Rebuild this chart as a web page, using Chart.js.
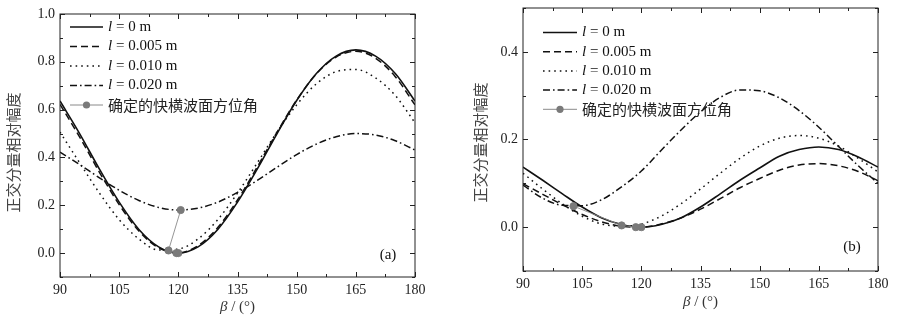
<!DOCTYPE html>
<html>
<head>
<meta charset="utf-8">
<script src="https://cdn.jsdelivr.net/npm/chart.js@4.4.1/dist/chart.umd.min.js"></script>
<style>
  body { margin: 0; background: #fff; }
  .panel { position: absolute; top: 0; width: 450px; height: 318px; }
</style>
</head>
<body>
<div class="panel" style="left:0"><canvas id="chartA" width="450" height="318"></canvas></div>
<div class="panel" style="left:450px"><canvas id="chartB" width="450" height="318"></canvas></div>
<script>
// azimuth beta (deg), shared x values
const beta = [90, 95, 100, 105, 110, 115, 120, 125, 130, 135, 140, 145, 150, 155, 160, 165, 170, 175, 180];
const xTicks = [90, 105, 120, 135, 150, 165, 180];

// panel (a)
const aTicks = [0.0, 0.2, 0.4, 0.6, 0.8, 1.0];
const a0   = [0.636, 0.499, 0.351, 0.213, 0.099, 0.026, 0.000, 0.026, 0.099, 0.213, 0.351, 0.499, 0.638, 0.751, 0.824, 0.850, 0.824, 0.751, 0.636];
const a005 = [0.622, 0.485, 0.338, 0.203, 0.092, 0.022, 0.001, 0.031, 0.107, 0.222, 0.360, 0.505, 0.640, 0.750, 0.820, 0.844, 0.815, 0.738, 0.620];
const a010 = [0.506, 0.377, 0.251, 0.140, 0.059, 0.013, 0.017, 0.059, 0.140, 0.251, 0.377, 0.506, 0.620, 0.708, 0.759, 0.768, 0.733, 0.659, 0.545];
const a020 = [0.422, 0.370, 0.315, 0.263, 0.220, 0.191, 0.180, 0.188, 0.213, 0.254, 0.304, 0.359, 0.412, 0.456, 0.487, 0.500, 0.494, 0.470, 0.431];
const aMarkX = [120, 119.5, 117.5, 120.6];
const aMarkY = [0.000, 0.000, 0.011, 0.180];

// panel (b)
const bTicks = [0.0, 0.2, 0.4];
const b0   = [0.137, 0.107, 0.076, 0.046, 0.021, 0.006, 0.000, 0.006, 0.021, 0.046, 0.076, 0.107, 0.135, 0.162, 0.177, 0.183, 0.177, 0.160, 0.137];
const b005 = [0.099, 0.075, 0.051, 0.029, 0.012, 0.002, 0.000, 0.007, 0.021, 0.041, 0.065, 0.090, 0.111, 0.130, 0.142, 0.145, 0.140, 0.127, 0.106];
const b010 = [0.123, 0.087, 0.053, 0.025, 0.007, 0.002, 0.007, 0.025, 0.053, 0.087, 0.123, 0.157, 0.185, 0.203, 0.209, 0.203, 0.185, 0.157, 0.126];
const b020 = [0.096, 0.066, 0.050, 0.049, 0.063, 0.092, 0.128, 0.175, 0.221, 0.263, 0.296, 0.313, 0.311, 0.295, 0.266, 0.228, 0.184, 0.140, 0.100];
const bMarkX = [120, 118.6, 115, 102.8];
const bMarkY = [0.000, 0.000, 0.004, 0.048];

const seriesNames = ['0', '0.005', '0.010', '0.020'];
const markName = '确定的快横波面方位角';
const yTitle = '正交分量相对幅度';

const SERIF = '"Liberation Serif", "Times New Roman", serif';
const CJK = '"Noto Sans CJK SC", sans-serif';
const lineStyles = [
  { dash: [], width: 1.6 },
  { dash: [7, 4], width: 1.5 },
  { dash: [1.6, 4], width: 1.5 },
  { dash: [7, 3, 1.6, 3], width: 1.5 }
];

function pts(xs, ys) {
  return xs.map((x, i) => ({ x: x, y: ys[i] }));
}

function makeDatasets(curves, markX, markY) {
  const sets = [{
    data: pts(markX, markY),
    showLine: true,
    borderColor: '#8a8a8a',
    borderWidth: 0.9,
    pointRadius: 3.6,
    pointBackgroundColor: '#7a7a7a',
    pointBorderColor: '#7a7a7a',
    tension: 0
  }];
  curves.forEach((c, i) => {
    sets.push({
      data: pts(beta, c),
      borderColor: '#111',
      borderWidth: lineStyles[i].width,
      borderDash: lineStyles[i].dash,
      pointRadius: 0,
      cubicInterpolationMode: 'monotone',
      fill: false
    });
  });
  return sets;
}

// frame, inward ticks, legend, titles
const decoPlugin = {
  id: 'deco',
  afterDraw(chart, args, opts) {
    const ctx = chart.ctx;
    const area = chart.chartArea;
    const xs = chart.scales.x;
    const ys = chart.scales.y;
    ctx.save();
    ctx.strokeStyle = '#222';
    ctx.lineWidth = 1;
    ctx.setLineDash([]);
    ctx.strokeRect(area.left, area.top, area.right - area.left, area.bottom - area.top);

    function minors(major, lo, hi) {
      const step = major[1] - major[0];
      const out = [];
      for (let i = 0; i < major.length - 1; i++) out.push((major[i] + major[i + 1]) / 2);
      if (major[0] - step / 2 >= lo - 1e-9) out.push(major[0] - step / 2);
      if (major[major.length - 1] + step / 2 <= hi + 1e-9) out.push(major[major.length - 1] + step / 2);
      return out;
    }
    ctx.beginPath();
    xTicks.forEach(v => {
      const p = Math.round(xs.getPixelForValue(v)) + 0.5;
      ctx.moveTo(p, area.bottom); ctx.lineTo(p, area.bottom - 5);
      ctx.moveTo(p, area.top); ctx.lineTo(p, area.top + 5);
    });
    minors(xTicks, xs.min, xs.max).forEach(v => {
      const p = Math.round(xs.getPixelForValue(v)) + 0.5;
      ctx.moveTo(p, area.bottom); ctx.lineTo(p, area.bottom - 3);
      ctx.moveTo(p, area.top); ctx.lineTo(p, area.top + 3);
    });
    opts.yTicks.forEach(v => {
      const p = Math.round(ys.getPixelForValue(v)) + 0.5;
      ctx.moveTo(area.left, p); ctx.lineTo(area.left + 5, p);
      ctx.moveTo(area.right, p); ctx.lineTo(area.right - 5, p);
    });
    minors(opts.yTicks, ys.min, ys.max).forEach(v => {
      const p = Math.round(ys.getPixelForValue(v)) + 0.5;
      ctx.moveTo(area.left, p); ctx.lineTo(area.left + 3, p);
      ctx.moveTo(area.right, p); ctx.lineTo(area.right - 3, p);
    });
    ctx.stroke();

    // legend
    const lg = opts.legend;
    ctx.textBaseline = 'middle';
    ctx.fillStyle = '#111';
    seriesNames.forEach((name, i) => {
      const y = lg.y + i * lg.gap;
      ctx.beginPath();
      ctx.setLineDash(lineStyles[i].dash);
      ctx.lineWidth = lineStyles[i].width;
      ctx.strokeStyle = '#111';
      ctx.moveTo(lg.x0, y); ctx.lineTo(lg.x1, y);
      ctx.stroke();
      ctx.setLineDash([]);
      let tx = lg.tx;
      ctx.font = 'italic 15px ' + SERIF;
      ctx.fillText('l', tx, y);
      tx += ctx.measureText('l').width;
      ctx.font = '15px ' + SERIF;
      ctx.fillText(' = ' + name + ' m', tx, y);
    });
    const my = lg.y + 4 * lg.gap;
    ctx.beginPath();
    ctx.strokeStyle = '#8a8a8a';
    ctx.lineWidth = 1;
    ctx.moveTo(lg.x0, my); ctx.lineTo(lg.x1, my);
    ctx.stroke();
    ctx.beginPath();
    ctx.fillStyle = '#7a7a7a';
    ctx.arc((lg.x0 + lg.x1) / 2, my, 3.6, 0, Math.PI * 2);
    ctx.fill();
    ctx.fillStyle = '#222';
    ctx.font = '15px ' + CJK;
    ctx.fillText(markName, lg.tx, my);

    // panel tag
    ctx.font = '15px ' + SERIF;
    ctx.fillStyle = '#111';
    ctx.textAlign = 'center';
    ctx.fillText(opts.tag, opts.tagX, opts.tagY);

    // x title
    ctx.textAlign = 'left';
    const cx = (area.left + area.right) / 2;
    ctx.font = 'italic 15px ' + SERIF;
    const wB = ctx.measureText('β').width;
    ctx.font = '15px ' + SERIF;
    const rest = ' / (°)';
    const wR = ctx.measureText(rest).width;
    let sx = cx - (wB + wR) / 2;
    ctx.fillStyle = '#333';
    ctx.font = 'italic 15px ' + SERIF;
    ctx.fillText('β', sx, opts.xTitleY);
    ctx.font = '15px ' + SERIF;
    ctx.fillText(rest, sx + wB, opts.xTitleY);

    // y title
    ctx.save();
    ctx.translate(opts.yTitleX, (area.top + area.bottom) / 2 + opts.yTitleShift);
    ctx.rotate(-Math.PI / 2);
    ctx.textAlign = 'center';
    ctx.fillStyle = '#444';
    ctx.font = '15px ' + CJK;
    ctx.fillText(yTitle, 0, 0);
    ctx.restore();
    ctx.restore();
  }
};

function makeChart(id, curves, markX, markY, cfg) {
  return new Chart(document.getElementById(id), {
    type: 'line',
    data: { datasets: makeDatasets(curves, markX, markY) },
    options: {
      responsive: false,
      animation: false,
      events: [],
      layout: { padding: cfg.padding },
      plugins: {
        legend: { display: false },
        tooltip: { enabled: false },
        deco: cfg.deco
      },
      scales: {
        x: {
          type: 'linear',
          min: 90, max: 180,
          grid: { display: false, drawTicks: false },
          border: { display: false },
          afterBuildTicks: s => { s.ticks = xTicks.map(v => ({ value: v })); },
          afterFit: s => { s.height = cfg.xHeight; s.paddingLeft = 0; s.paddingRight = 0; },
          ticks: { padding: 5, color: '#222', font: { family: SERIF, size: 14 }, maxRotation: 0 }
        },
        y: {
          min: cfg.yMin, max: cfg.yMax,
          grid: { display: false, drawTicks: false },
          border: { display: false },
          afterBuildTicks: s => { s.ticks = cfg.deco.yTicks.map(v => ({ value: v })); },
          afterFit: s => { s.width = cfg.yWidth; s.paddingTop = 0; s.paddingBottom = 0; },
          ticks: {
            padding: 5, color: '#222', font: { family: SERIF, size: 14 },
            callback: v => v.toFixed(1)
          }
        }
      }
    },
    plugins: [decoPlugin]
  });
}

makeChart('chartA', [a0, a005, a010, a020], aMarkX, aMarkY, {
  padding: { top: 14, right: 35, left: 0, bottom: 0 },
  xHeight: 41, yWidth: 60, yMin: -0.1, yMax: 1.0,
  deco: {
    yTicks: aTicks,
    legend: { x0: 70, x1: 103, tx: 108, y: 27, gap: 19.5 },
    tag: '(a)', tagX: 388, tagY: 255,
    xTitleY: 307, yTitleX: 13, yTitleShift: 7
  }
});

makeChart('chartB', [b0, b005, b010, b020], bMarkX, bMarkY, {
  padding: { top: 8, right: 22, left: 0, bottom: 0 },
  xHeight: 47, yWidth: 73, yMin: -0.1, yMax: 0.5,
  deco: {
    yTicks: bTicks,
    legend: { x0: 93, x1: 127, tx: 132, y: 32.5, gap: 19.2 },
    tag: '(b)', tagX: 402, tagY: 247,
    xTitleY: 302, yTitleX: 30, yTitleShift: 3
  }
});
</script>
</body>
</html>
